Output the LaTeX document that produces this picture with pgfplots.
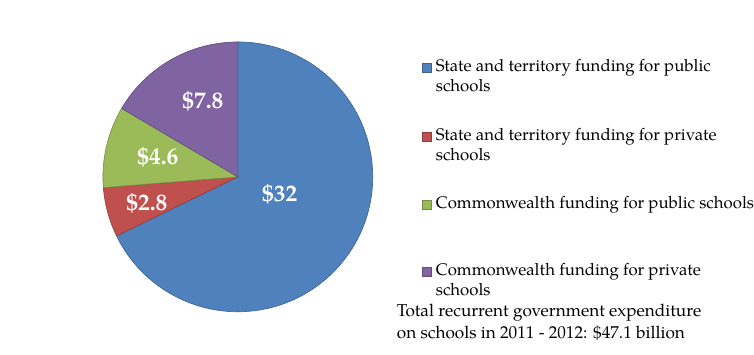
\documentclass[border=0pt]{standalone}
\usepackage{pgfplots}
\pgfplotsset{compat=1.18}
\usepackage{pgfplotstable}
\usepackage{fontspec}
\setmainfont{TeX Gyre Pagella}
\definecolor{cBlue}{HTML}{4F81BD}
\definecolor{cRed}{HTML}{C0504D}
\definecolor{cGreen}{HTML}{9BBB59}
\definecolor{cPurple}{HTML}{8064A2}
\pgfplotstableread{
value
32
2.8
4.6
7.8
}\piedata
\begin{document}
\begin{tikzpicture}
\pgfplotstablegetelem{0}{value}\of\piedata \let\va\pgfplotsretval
\pgfplotstablegetelem{1}{value}\of\piedata \let\vb\pgfplotsretval
\pgfplotstablegetelem{2}{value}\of\piedata \let\vc\pgfplotsretval
\pgfplotstablegetelem{3}{value}\of\piedata \let\vd\pgfplotsretval
\pgfmathsetmacro{\tot}{\va+\vb+\vc+\vd}
\pgfmathsetmacro{\aA}{90}
\pgfmathsetmacro{\aB}{\aA-360*\va/\tot}
\pgfmathsetmacro{\aC}{\aB-360*\vb/\tot}
\pgfmathsetmacro{\aD}{\aC-360*\vc/\tot}
\pgfmathsetmacro{\aE}{\aD-360*\vd/\tot}
\begin{axis}[hide axis, scale only axis, width=754bp, height=355bp,
  xmin=0, xmax=754, ymin=0, ymax=355, clip=false,
  /pgf/number format/assume math mode=true]
\path (axis cs:0,0) rectangle (axis cs:754,355);
\fill[cBlue, draw=cBlue!75!black, line width=0.6pt] (axis cs:238,178) -- ++(\aA:135bp) arc[start angle=\aA, end angle=\aB, radius=135bp] -- cycle;
\fill[cRed, draw=cRed!75!black, line width=0.6pt] (axis cs:238,178) -- ++(\aB:135bp) arc[start angle=\aB, end angle=\aC, radius=135bp] -- cycle;
\fill[cGreen, draw=cGreen!75!black, line width=0.6pt] (axis cs:238,178) -- ++(\aC:135bp) arc[start angle=\aC, end angle=\aD, radius=135bp] -- cycle;
\fill[cPurple, draw=cPurple!75!black, line width=0.6pt] (axis cs:238,178) -- ++(\aD:135bp) arc[start angle=\aD, end angle=\aE, radius=135bp] -- cycle;
% slice labels
\begin{scope}[every node/.style={text=white, font=\fontsize{23.5bp}{27bp}\selectfont\bfseries, inner sep=0pt}]
\node at (axis cs:280,160) {\$\pgfmathprintnumber[assume math mode=true]{\va}};
\node at (axis cs:147,151) {\$\pgfmathprintnumber[assume math mode=true]{\vb}};
\node at (axis cs:158,198) {\$\pgfmathprintnumber[assume math mode=true]{\vc}};
\node at (axis cs:203,254) {\$\pgfmathprintnumber[assume math mode=true]{\vd}};
\end{scope}
% legend
\begin{scope}[every node/.style={anchor=base west, inner sep=0pt, font=\fontsize{16.8bp}{20bp}\selectfont}]
\fill[cBlue, draw=cBlue!75!black, line width=0.4pt] (axis cs:423,283) rectangle (axis cs:432,292);
\node at (axis cs:436,283) {State and territory funding for public};
\node at (axis cs:436,263) {schools};
\fill[cRed, draw=cRed!75!black, line width=0.4pt] (axis cs:423,214) rectangle (axis cs:432,223);
\node at (axis cs:436,214) {State and territory funding for private};
\node at (axis cs:436,194) {schools};
\fill[cGreen, draw=cGreen!75!black, line width=0.4pt] (axis cs:423,146) rectangle (axis cs:432,155);
\node at (axis cs:436,146) {Commonwealth funding for public schools};
\fill[cPurple, draw=cPurple!75!black, line width=0.4pt] (axis cs:423,79) rectangle (axis cs:432,88);
\node at (axis cs:436,79) {Commonwealth funding for private};
\node at (axis cs:436,59) {schools};
\node[font=\fontsize{17.2bp}{21bp}\selectfont] at (axis cs:397,38) {Total recurrent government expenditure};
\node[font=\fontsize{17.2bp}{21bp}\selectfont] at (axis cs:397,16) {on schools in 2011 - 2012: \$47.1 billion};
\end{scope}
\end{axis}
\end{tikzpicture}
\end{document}
